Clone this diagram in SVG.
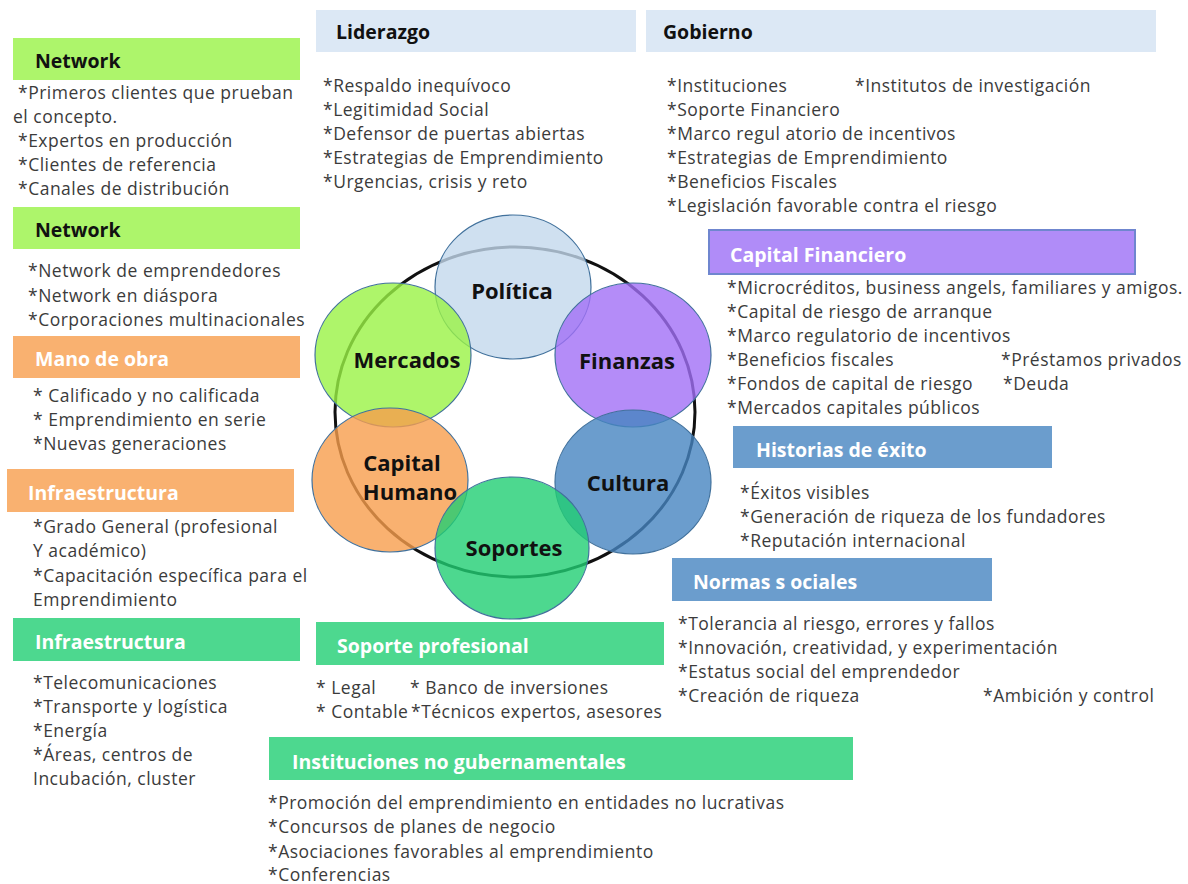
<svg xmlns="http://www.w3.org/2000/svg" width="1188" height="884" viewBox="0 0 1188 884">
<style>
text{font-family:"Open Sans","Noto Sans","Liberation Sans",sans-serif}
.li{font-size:17.5px;fill:#3b3b3b;letter-spacing:0.5px}
.hd{font-size:19.5px;font-weight:bold}
.hb{fill:#111}
.hw{fill:#fff}
.cl{font-size:22px;font-weight:bold;fill:#111;text-anchor:middle}
.c{stroke:#41719c;stroke-width:1.2;fill-opacity:0.8}
.blue{fill:#dce8f5}
.lime{fill:#adf56b}
.orng{fill:#f9b170}
.grn{fill:#4dd88f}
.stl{fill:#6b9dcd}
</style>
<rect width="1188" height="884" fill="#fff"/>
<g id="connectors">
<ellipse cx="515" cy="412" rx="180" ry="165" fill="none" stroke="#111" stroke-width="3"/>
</g>
<g id="politica"><ellipse class="c" cx="513" cy="287" rx="78" ry="72" fill="#c3d8ec"/><text class="cl" x="512" y="299">Política</text></g>
<g id="mercados"><ellipse class="c" cx="393" cy="355" rx="78" ry="72" fill="#9af245"/><text class="cl" x="407" y="368">Mercados</text></g>
<g id="finanzas"><ellipse class="c" cx="633" cy="355" rx="78" ry="72" fill="#a16ff6"/><text class="cl" x="627" y="369">Finanzas</text></g>
<g id="capital-humano"><ellipse class="c" cx="390" cy="480" rx="78" ry="72" fill="#f79d4c"/><text class="cl" x="402" y="471">Capital</text><text class="cl" x="410" y="500">Humano</text></g>
<g id="cultura"><ellipse class="c" cx="633" cy="482" rx="78" ry="72" fill="#4684c0"/><text class="cl" x="628" y="491">Cultura</text></g>
<g id="soportes"><ellipse class="c" cx="512" cy="548" rx="77" ry="71" fill="#20ce73"/><text class="cl" x="514" y="556">Soportes</text></g>

<g id="liderazgo">
<rect class="blue" x="316" y="10" width="320" height="42"/>
<text class="hd hb" x="336" y="39">Liderazgo</text>
<text class="li" x="323" y="92">*Respaldo inequívoco</text>
<text class="li" x="323" y="116">*Legitimidad Social</text>
<text class="li" x="323" y="140">*Defensor de puertas abiertas</text>
<text class="li" x="323" y="164">*Estrategias de Emprendimiento</text>
<text class="li" x="323" y="188">*Urgencias, crisis y reto</text>
</g>
<g id="gobierno">
<rect class="blue" x="646" y="10" width="510" height="42"/>
<text class="hd hb" x="663" y="39">Gobierno</text>
<text class="li" x="667" y="92">*Instituciones</text>
<text class="li" x="855" y="92">*Institutos de investigación</text>
<text class="li" x="667" y="116">*Soporte Financiero</text>
<text class="li" x="667" y="140">*Marco regul atorio de incentivos</text>
<text class="li" x="667" y="164">*Estrategias de Emprendimiento</text>
<text class="li" x="667" y="188">*Beneficios Fiscales</text>
<text class="li" x="667" y="212">*Legislación favorable contra el riesgo</text>
</g>
<g id="network-1">
<rect class="lime" x="13" y="38" width="287" height="42"/>
<text class="hd hb" x="35" y="68">Network</text>
<text class="li" x="18" y="99">*Primeros clientes que prueban</text>
<text class="li" x="13" y="123">el concepto.</text>
<text class="li" x="18" y="147">*Expertos en producción</text>
<text class="li" x="18" y="171">*Clientes de referencia</text>
<text class="li" x="18" y="195">*Canales de distribución</text>
</g>
<g id="network-2">
<rect class="lime" x="13" y="207" width="287" height="42"/>
<text class="hd hb" x="35" y="237">Network</text>
<text class="li" x="28" y="277">*Network de emprendedores</text>
<text class="li" x="28" y="302">*Network en diáspora</text>
<text class="li" x="28" y="326">*Corporaciones multinacionales</text>
</g>
<g id="mano-de-obra">
<rect class="orng" x="13" y="336" width="287" height="42"/>
<text class="hd hw" x="35" y="366">Mano de obra</text>
<text class="li" x="33" y="402">* Calificado y no calificada</text>
<text class="li" x="33" y="426">* Emprendimiento en serie</text>
<text class="li" x="33" y="450">*Nuevas generaciones</text>
</g>
<g id="infraestructura-capital">
<rect class="orng" x="7" y="469" width="287" height="43"/>
<text class="hd hw" x="28" y="500">Infraestructura</text>
<text class="li" x="33" y="533">*Grado General (profesional</text>
<text class="li" x="33" y="557">Y académico)</text>
<text class="li" x="33" y="582">*Capacitación específica para el</text>
<text class="li" x="33" y="606">Emprendimiento</text>
</g>
<g id="infraestructura-soporte">
<rect class="grn" x="13" y="618" width="287" height="43"/>
<text class="hd hw" x="35" y="649">Infraestructura</text>
<text class="li" x="33" y="689">*Telecomunicaciones</text>
<text class="li" x="33" y="713">*Transporte y logística</text>
<text class="li" x="33" y="737">*Energía</text>
<text class="li" x="33" y="761">*Áreas, centros de</text>
<text class="li" x="33" y="785">Incubación, cluster</text>
</g>
<g id="capital-financiero">
<rect x="709" y="230" width="426" height="44" fill="#b08cf8" stroke="#6f86cf" stroke-width="2"/>
<text class="hd hw" x="730" y="262">Capital Financiero</text>
<text class="li" x="727" y="294">*Microcréditos, business angels, familiares y amigos.</text>
<text class="li" x="727" y="318">*Capital de riesgo de arranque</text>
<text class="li" x="727" y="342">*Marco regulatorio de incentivos</text>
<text class="li" x="727" y="366">*Beneficios fiscales</text>
<text class="li" x="1001" y="366">*Préstamos privados</text>
<text class="li" x="727" y="390">*Fondos de capital de riesgo</text>
<text class="li" x="1003" y="390">*Deuda</text>
<text class="li" x="727" y="414">*Mercados capitales públicos</text>
</g>
<g id="historias-de-exito">
<rect class="stl" x="733" y="426" width="319" height="42"/>
<text class="hd hw" x="756" y="457">Historias de éxito</text>
<text class="li" x="740" y="499">*Éxitos visibles</text>
<text class="li" x="740" y="523">*Generación de riqueza de los fundadores</text>
<text class="li" x="740" y="547">*Reputación internacional</text>
</g>
<g id="normas-sociales">
<rect class="stl" x="672" y="558" width="320" height="43"/>
<text class="hd hw" x="693" y="589">Normas s ociales</text>
<text class="li" x="678" y="630">*Tolerancia al riesgo, errores y fallos</text>
<text class="li" x="678" y="654">*Innovación, creatividad, y experimentación</text>
<text class="li" x="678" y="678">*Estatus social del emprendedor</text>
<text class="li" x="678" y="702">*Creación de riqueza</text>
<text class="li" x="983" y="702">*Ambición y control</text>
</g>
<g id="soporte-profesional">
<rect class="grn" x="316" y="622" width="348" height="43"/>
<text class="hd hw" x="337" y="653">Soporte profesional</text>
<text class="li" x="316" y="694">* Legal</text>
<text class="li" x="410" y="694">* Banco de inversiones</text>
<text class="li" x="316" y="718">* Contable</text>
<text class="li" x="411" y="718">*Técnicos expertos, asesores</text>
</g>
<g id="instituciones-no-gubernamentales">
<rect class="grn" x="269" y="737" width="584" height="43"/>
<text class="hd hw" x="292" y="769">Instituciones no gubernamentales</text>
<text class="li" x="268" y="809">*Promoción del emprendimiento en entidades no lucrativas</text>
<text class="li" x="268" y="833">*Concursos de planes de negocio</text>
<text class="li" x="268" y="858">*Asociaciones favorables al emprendimiento</text>
<text class="li" x="268" y="881">*Conferencias</text>
</g>
</svg>
